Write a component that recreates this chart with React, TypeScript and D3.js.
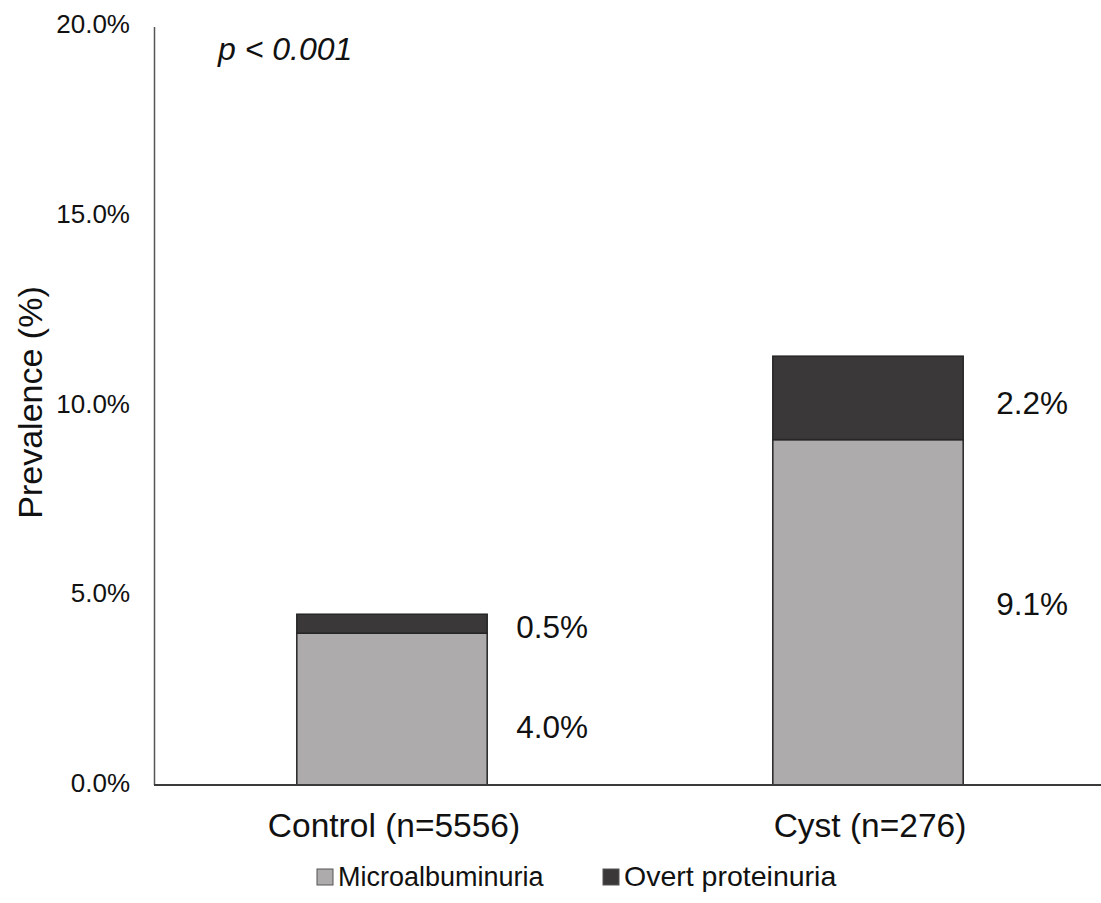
import React from "react";
import * as d3 from "d3";

const categories = ["Control (n=5556)", "Cyst (n=276)"];
const seriesNames = ["Microalbuminuria", "Overt proteinuria"];
const microValues = [4.0, 9.1];
const overtValues = [0.5, 2.2];
const yTicks = [0, 5, 10, 15, 20];
const pValueText = "p < 0.001";
const yTitle = "Prevalence (%)";

const colors = ["#adabab", "#3a3839"];
// per-label vertical nudges (px) [category][series]
const labelNudge = [
  [18, 3],
  [-8, 5],
];

const FONT = "'Liberation Sans', Arial, sans-serif";

export default function App() {
  const W = 1101;
  const H = 903;
  const y = d3.scaleLinear().domain([0, 20]).range([785, 26]);
  const x = d3
    .scaleBand<string>()
    .domain(categories)
    .range([154, 1106])
    .paddingInner(0.6)
    .paddingOuter(0.3);
  const bw = x.bandwidth();

  const stack = d3
    .stack<any>()
    .keys(["micro", "overt"])(
      categories.map((c, i) => ({ cat: c, micro: microValues[i], overt: overtValues[i] }))
    );

  const values = [microValues, overtValues];

  return (
    <svg width={W} height={H} style={{ display: "block", position: "absolute", left: 0, top: 0, background: "#fff" }}>
      {/* y tick labels */}
      {yTicks.map((t) => (
        <text
          key={t}
          x={130}
          y={y(t) + 7}
          textAnchor="end"
          fontFamily={FONT}
          fontSize={26}
          fill="#111"
        >
          {t.toFixed(1) + "%"}
        </text>
      ))}
      {/* bars */}
      {stack.map((layer, si) =>
        layer.map((d, ci) => {
          const cx = x(categories[ci]) as number;
          return (
            <rect
              key={si + "-" + ci}
              x={cx}
              y={y(d[1])}
              width={bw}
              height={y(d[0]) - y(d[1])}
              fill={colors[si]}
              stroke="#262626"
              strokeWidth={1.5}
            />
          );
        })
      )}
      {/* data labels */}
      {stack.map((layer, si) =>
        layer.map((d, ci) => {
          const cx = x(categories[ci]) as number;
          const mid = (y(d[0]) + y(d[1])) / 2;
          return (
            <text
              key={"l" + si + "-" + ci}
              x={cx + bw + 29 + ci * 4}
              y={mid + 11 + labelNudge[ci][si]}
              fontFamily={FONT}
              fontSize={31.5}
              fill="#111"
            >
              {values[si][ci].toFixed(1) + "%"}
            </text>
          );
        })
      )}
      {/* axes */}
      <line x1={154.5} x2={154.5} y1={27} y2={785} stroke="#555" strokeWidth={1.5} />
      <line x1={154} x2={1101} y1={785} y2={785} stroke="#3a3a3a" strokeWidth={2} />
      {/* category labels */}
      {categories.map((c) => (
        <text
          key={c}
          x={(x(c) as number) + bw / 2 + 2}
          y={837}
          textAnchor="middle"
          fontFamily={FONT}
          fontSize={33.5}
          fill="#111"
        >
          {c}
        </text>
      ))}
      {/* y title */}
      <text
        transform={`translate(42, ${(y(0) + y(20)) / 2 - 3}) rotate(-90)`}
        textAnchor="middle"
        fontFamily={FONT}
        fontSize={34}
        fill="#111"
      >
        {yTitle}
      </text>
      {/* p value */}
      <text x={218} y={60} fontFamily={FONT} fontStyle="italic" fontSize={32} fill="#111">
        {pValueText}
      </text>
      {/* legend */}
      {seriesNames.map((s, i) => {
        const lx = [317, 603][i];
        return (
          <g key={s}>
            <rect x={lx} y={869} width={16} height={16} fill={colors[i]} stroke="#555" strokeWidth={1} />
            <text x={lx + 21} y={886} fontFamily={FONT} fontSize={i === 0 ? 27 : 28.5} fill="#111">
              {s}
            </text>
          </g>
        );
      })}
    </svg>
  );
}
